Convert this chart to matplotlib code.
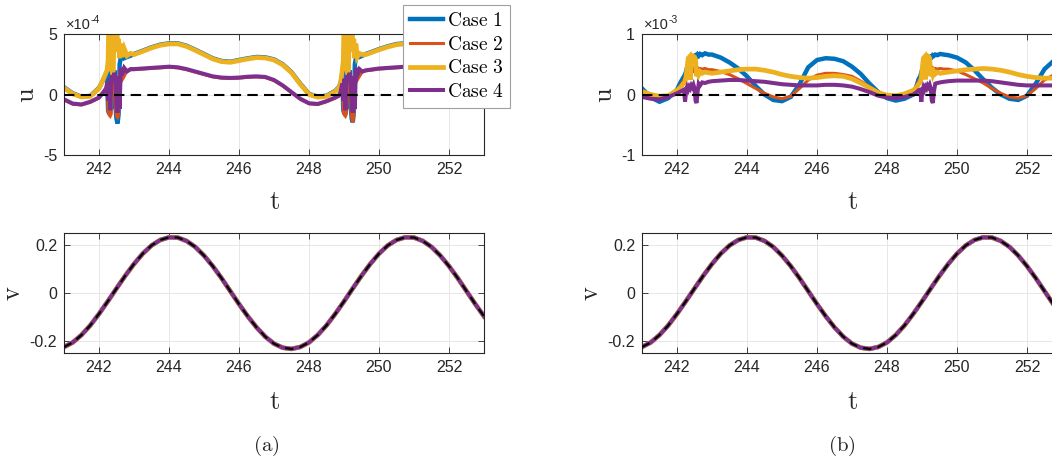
import matplotlib
matplotlib.use("Agg")
import matplotlib.pyplot as plt
from matplotlib.lines import Line2D

W, H = 1052, 461
plt.rcParams["font.family"] = ["Liberation Sans", "DejaVu Sans"]
plt.rcParams["mathtext.fontset"] = "cm"
plt.rcParams["axes.unicode_minus"] = False

case_labels = ["Case 1", "Case 2", "Case 3", "Case 4"]
case_colors = ["#0072BD", "#D95319", "#EDB120", "#7E2F8E"]
case_widths = [3.2, 2.2, 3.4, 2.9]

# time samples for u (denser around the two bursts)
t_u = [241.0, 241.25, 241.5, 241.75, 242.0, 242.1, 242.2,
       242.23, 242.26, 242.29, 242.32, 242.35, 242.38, 242.41, 242.44, 242.47,
       242.5, 242.53, 242.56, 242.59, 242.62, 242.66, 242.72, 242.8, 242.9,
       243.0, 243.25, 243.5, 243.75, 244.0, 244.25, 244.5, 244.75, 245.0, 245.25,
       245.5, 245.75, 246.0, 246.25, 246.5, 246.75, 247.0, 247.25, 247.5, 247.75,
       248.0, 248.25, 248.5, 248.75, 248.85, 248.9,
       248.95, 248.98, 249.01, 249.04, 249.07, 249.1, 249.13, 249.16, 249.19,
       249.22, 249.25, 249.28, 249.31, 249.34, 249.38, 249.44, 249.52, 249.62,
       249.75, 250.0, 250.25, 250.5, 250.75, 251.0, 251.25, 251.5, 251.75, 252.0,
       252.25, 252.5, 252.75, 253.0]

# panel (a): u in units of 1e-4
ua_case1 = [0.6, 0.1, -0.18, -0.12, 0.55, 1.1, 1.7,
            1.5, -1.3, -1.6, 2.5, -1.2, 3.0, 1.0, 2.0, -1.0, -2.0, -2.4, -1.6, 2.5, 3.0, 3.4, 3.0, 3.1, 3.2,
            3.35, 3.62, 3.9, 4.12, 4.23, 4.23, 4.03, 3.7, 3.35, 2.99, 2.77, 2.71, 2.85, 2.99, 3.1, 3.07,
            2.9, 2.5, 1.85, 0.9, 0.05, -0.18, -0.1, 0.3, 0.6, 0.95,
            1.5, -1.3, -1.6, 2.5, -1.2, 3.0, 1.0, 2.0, -1.0, -2.0, -2.3, -1.5, 2.5, 3.0, 3.3, 3.1, 3.2, 3.35,
            3.48, 3.75, 3.98, 4.17, 4.23, 4.23, 4.05, 3.75, 3.35, 3.0, 2.77, 2.71, 2.85, 2.99]
ua_case2 = [-0.45, -0.8, -0.87, -0.65, -0.3, 0.05, 0.45,
            0.7, -1.4, -1.7, -1.8, -1.6, 1.4, 1.0, 1.6, -1.0, -1.8, -1.9, -1.7, 1.6, 2.0, 1.2, 1.5, 2.0, 2.05,
            2.05, 2.1, 2.15, 2.2, 2.25, 2.2, 2.05, 1.85, 1.65, 1.45, 1.35, 1.32, 1.35, 1.42, 1.45, 1.4,
            1.15, 0.7, 0.15, -0.4, -0.77, -0.83, -0.6, -0.3, -0.15, 0.15,
            0.7, -1.4, -1.7, -1.8, -1.6, 1.4, 1.0, 1.6, -1.0, -1.9, -2.3, -1.8, 1.6, 2.0, 1.2, 1.5, 1.85, 1.95,
            2.0, 2.1, 2.15, 2.2, 2.25, 2.2, 2.05, 1.85, 1.65, 1.45, 1.35, 1.32, 1.35, 1.42]
ua_case3 = [0.55, 0.05, -0.2, -0.15, 0.5, 1.1, 1.8,
            2.0, 2.8, 8.0, 8.0, 2.2, 1.8, 2.0, 8.0, 8.0, 8.0, 3.5, 4.6, 3.0, 4.2, 3.1, 3.8, 3.2, 3.4,
            3.3, 3.57, 3.85, 4.07, 4.18, 4.18, 3.98, 3.65, 3.3, 2.94, 2.72, 2.66, 2.8, 2.94, 3.05, 3.02,
            2.85, 2.45, 1.8, 0.85, 0.0, -0.22, -0.15, 0.25, 0.55, 0.9,
            2.0, 2.8, 8.0, 8.0, 2.2, 1.8, 2.0, 8.0, 8.0, 8.0, 3.5, 4.6, 3.0, 4.2, 3.1, 3.4, 3.3, 3.3,
            3.43, 3.7, 3.93, 4.12, 4.18, 4.18, 4.0, 3.7, 3.3, 2.95, 2.72, 2.66, 2.8, 2.94]
ua_case4 = [-0.4, -0.75, -0.82, -0.6, -0.25, 0.1, 0.5,
            0.9, -0.5, 1.3, -1.3, 1.0, 1.6, 1.2, 1.8, 1.3, -1.0, -1.5, 1.5, -1.2, 2.2, 1.6, 2.2, 1.9, 2.1,
            2.1, 2.15, 2.2, 2.25, 2.3, 2.25, 2.1, 1.9, 1.7, 1.5, 1.4, 1.37, 1.4, 1.47, 1.5, 1.45,
            1.2, 0.75, 0.2, -0.35, -0.72, -0.78, -0.55, -0.25, -0.1, 0.2,
            0.9, -0.5, 1.3, -1.3, 1.0, 1.6, 1.2, 1.8, 1.3, -1.0, -1.5, 1.5, -1.2, 2.2, 1.6, 2.1, 1.9, 2.0,
            2.05, 2.15, 2.2, 2.25, 2.3, 2.25, 2.1, 1.9, 1.7, 1.5, 1.4, 1.37, 1.4, 1.47]

# panel (b): u in units of 1e-3
ub_case1 = [0.1, -0.05, -0.12, -0.06, 0.08, 0.2, 0.3,
            0.33, 0.38, 0.45, 0.5, 0.55, 0.57, 0.6, 0.62, 0.63, 0.64, 0.65, 0.63, 0.66, 0.64, 0.67, 0.65, 0.68, 0.66,
            0.66, 0.61, 0.53, 0.43, 0.3, 0.14, 0.0, -0.09, -0.11, -0.04, 0.17, 0.45, 0.57, 0.6, 0.59, 0.55,
            0.46, 0.34, 0.18, 0.04, -0.06, -0.1, -0.07, 0.0, 0.15, 0.25,
            0.3, 0.36, 0.42, 0.46, 0.5, 0.53, 0.55, 0.58, 0.6, 0.62, 0.63, 0.62, 0.65, 0.64, 0.66, 0.65, 0.67, 0.66,
            0.65, 0.61, 0.53, 0.4, 0.25, 0.11, 0.0, -0.07, -0.09, -0.02, 0.18, 0.42, 0.55, 0.6]
ub_case2 = [0.02, -0.04, -0.06, -0.03, 0.05, 0.15, 0.25,
            0.28, 0.3, 0.36, 0.33, 0.39, 0.35, 0.4, 0.38, 0.42, 0.39, 0.43, 0.41, 0.44, 0.42, 0.43, 0.42, 0.43, 0.41,
            0.41, 0.38, 0.33, 0.26, 0.18, 0.1, 0.02, -0.04, -0.07, -0.03, 0.1, 0.24, 0.32, 0.35, 0.35, 0.33,
            0.3, 0.22, 0.13, 0.04, -0.03, -0.06, -0.04, 0.05, 0.15, 0.22,
            0.26, 0.3, 0.35, 0.33, 0.38, 0.35, 0.4, 0.38, 0.42, 0.39, 0.43, 0.41, 0.44, 0.42, 0.43, 0.42, 0.43, 0.42,
            0.42, 0.39, 0.33, 0.26, 0.19, 0.1, 0.02, -0.04, -0.06, -0.02, 0.1, 0.24, 0.32, 0.35]
ub_case3 = [0.05, 0.0, -0.03, -0.02, 0.07, 0.12, 0.19,
            0.2, 0.3, 0.45, 0.6, 0.62, 0.24, 0.6, 0.64, 0.63, 0.62, 0.58, 0.3, 0.4, 0.33, 0.38, 0.35, 0.37, 0.36,
            0.35, 0.37, 0.39, 0.41, 0.42, 0.42, 0.4, 0.37, 0.33, 0.3, 0.28, 0.27, 0.28, 0.3, 0.31, 0.3,
            0.26, 0.19, 0.11, 0.03, -0.01, -0.02, 0.01, 0.07, 0.12, 0.17,
            0.2, 0.28, 0.45, 0.6, 0.62, 0.25, 0.6, 0.64, 0.63, 0.6, 0.3, 0.4, 0.33, 0.38, 0.34, 0.37, 0.35, 0.36,
            0.37, 0.39, 0.41, 0.42, 0.43, 0.42, 0.4, 0.37, 0.33, 0.3, 0.28, 0.27, 0.27, 0.28]
ub_case4 = [-0.04, -0.07, -0.08, -0.04, 0.02, 0.05, 0.08,
            -0.12, 0.05, 0.12, 0.08, 0.13, 0.1, 0.15, 0.12, 0.16, 0.1, -0.1, -0.14, 0.05, 0.18, 0.15, 0.2, 0.19, 0.21,
            0.22, 0.23, 0.24, 0.24, 0.23, 0.22, 0.21, 0.19, 0.17, 0.16, 0.15, 0.15, 0.15, 0.16, 0.16, 0.15,
            0.13, 0.09, 0.04, -0.02, -0.05, -0.06, -0.04, 0.0, 0.04, 0.07,
            0.08, -0.12, 0.05, 0.12, 0.08, 0.13, 0.1, 0.15, 0.12, 0.16, 0.1, -0.1, -0.14, 0.05, 0.18, 0.19, 0.2, 0.21,
            0.22, 0.23, 0.23, 0.23, 0.23, 0.22, 0.2, 0.18, 0.16, 0.15, 0.15, 0.15, 0.15, 0.16]

# v is the same for every case (and the reference)
t_v = [241.0, 241.25, 241.5, 241.75, 242.0, 242.25, 242.5, 242.75, 243.0, 243.25,
       243.5, 243.75, 244.0, 244.25, 244.5, 244.75, 245.0, 245.25, 245.5, 245.75,
       246.0, 246.25, 246.5, 246.75, 247.0, 247.25, 247.5, 247.75, 248.0, 248.25,
       248.5, 248.75, 249.0, 249.25, 249.5, 249.75, 250.0, 250.25, 250.5, 250.75,
       251.0, 251.25, 251.5, 251.75, 252.0, 252.25, 252.5, 252.75, 253.0]
v_vals = [-0.225, -0.206, -0.175, -0.135, -0.087, -0.035, 0.019, 0.072, 0.121, 0.164,
          0.198, 0.221, 0.232, 0.231, 0.217, 0.192, 0.156, 0.112, 0.062, 0.008,
          -0.046, -0.097, -0.143, -0.182, -0.211, -0.228, -0.233, -0.225, -0.206, -0.175,
          -0.135, -0.087, -0.035, 0.019, 0.072, 0.121, 0.164, 0.198, 0.221, 0.232,
          0.231, 0.217, 0.192, 0.156, 0.112, 0.062, 0.008, -0.046, -0.097]

x_ticks = [242, 244, 246, 248, 250, 252]
AX_COL = "#262626"


def px_box(left, top, right, bottom):
    return [left / W, 1 - bottom / H, (right - left) / W, (bottom - top) / H]


def style_axes(ax, yticks, ylabels):
    ax.set_xlim(241, 253)
    ax.set_xticks(x_ticks)
    ax.set_xticklabels([str(x) for x in x_ticks])
    ax.set_yticks(yticks)
    ax.set_yticklabels(ylabels)
    ax.set_axisbelow(True)
    ax.grid(True, color="#e3e3e3", lw=0.6)
    ax.tick_params(direction="in", top=True, right=True, length=4, width=0.6,
                   colors=AX_COL, labelsize=11.5, pad=5)
    for sp in ax.spines.values():
        sp.set_color(AX_COL)
        sp.set_linewidth(0.8)


def u_panel(ax, cases, ylim, yticks, mult):
    for vals, col, lw in zip(cases, case_colors, case_widths):
        ax.plot(t_u, vals, color=col, lw=lw, solid_joinstyle="miter")
    ax.axhline(0, color="black", ls="--", lw=1.5, dashes=(5, 3), zorder=5)
    ax.set_ylim(*ylim)
    style_axes(ax, yticks, [str(y) for y in yticks])
    ax.set_ylabel(r"$\mathrm{u}$", fontsize=19, color=AX_COL)
    ax.yaxis.set_label_coords(-0.06, 0.5)
    ax.set_xlabel(r"$\mathrm{t}$", fontsize=19, color=AX_COL)
    ax.xaxis.set_label_coords(0.5, -0.29)
    x0 = ax.get_position().x0
    base = fig.text(x0 + 2 / W, 1 - 29 / H, "\u00d710", fontsize=10.5, color=AX_COL, va="baseline")
    bb = base.get_window_extent(renderer=fig.canvas.get_renderer())
    fig.text(bb.x1 / W, 1 - 23 / H, mult, fontsize=7.5, color=AX_COL, va="baseline")


def v_panel(ax):
    for col, lw in zip(case_colors, case_widths):
        ax.plot(t_v, v_vals, color=col, lw=lw)
    ax.plot(t_v, v_vals, color="black", ls="--", lw=1.5, dashes=(4, 3), zorder=5)
    ax.set_ylim(-0.25, 0.25)
    style_axes(ax, [-0.2, 0, 0.2], ["-0.2", "0", "0.2"])
    ax.set_ylabel(r"$\mathrm{v}$", fontsize=19, color=AX_COL)
    ax.yaxis.set_label_coords(-0.092, 0.5)
    ax.set_xlabel(r"$\mathrm{t}$", fontsize=19, color=AX_COL)
    ax.xaxis.set_label_coords(0.5, -0.31)


fig = plt.figure(figsize=(W / 100, H / 100), dpi=100)

ax_ua = fig.add_axes(px_box(64, 34, 484, 155))
ax_va = fig.add_axes(px_box(64, 233, 484, 353))
ax_ub = fig.add_axes(px_box(642, 34, 1062, 155))
ax_vb = fig.add_axes(px_box(642, 233, 1062, 353))

u_panel(ax_ua, [ua_case1, ua_case2, ua_case3, ua_case4], (-5, 5), [-5, 0, 5], "-4")
u_panel(ax_ub, [ub_case1, ub_case2, ub_case3, ub_case4], (-1, 1), [-1, 0, 1], "-3")
v_panel(ax_va)
v_panel(ax_vb)

handles = [Line2D([], [], color=c, lw=lw) for c, lw in zip(case_colors, case_widths)]
leg = fig.legend(handles, [r"$\mathrm{" + s.replace(" ", r"\ ") + "}$" for s in case_labels],
                 loc="upper left", bbox_to_anchor=(403 / W, 1 - 5 / H), borderaxespad=0,
                 fontsize=14, frameon=True, fancybox=False, framealpha=1,
                 handlelength=1.7, handletextpad=0.2, labelspacing=0.3, borderpad=0.35)
leg.get_frame().set_edgecolor("#a0a0a0")
leg.get_frame().set_linewidth(0.8)
leg.set_zorder(10)

fig.text(266 / W, 1 - 446 / H, r"$\mathrm{(a)}$", fontsize=15, ha="center", va="center", color=AX_COL)
fig.text(842 / W, 1 - 446 / H, r"$\mathrm{(b)}$", fontsize=15, ha="center", va="center", color=AX_COL)

fig.savefig("out.png", dpi=100)
